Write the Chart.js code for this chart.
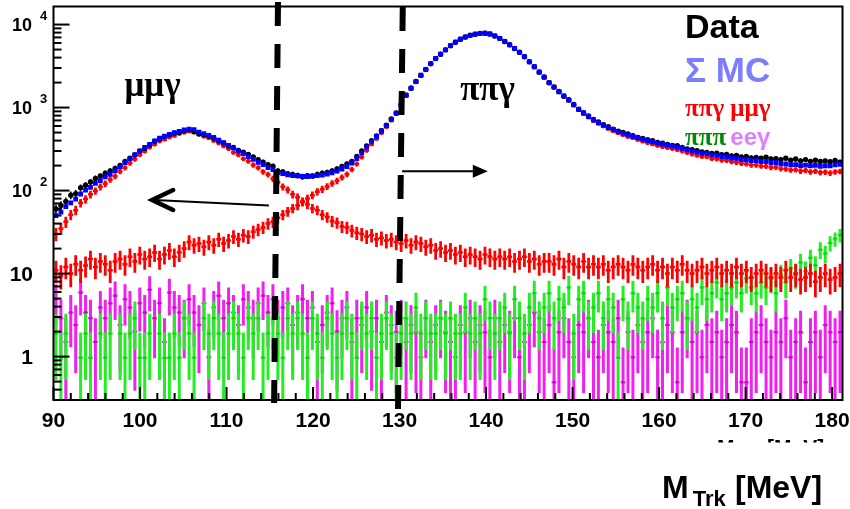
<!DOCTYPE html>
<html>
<head>
<meta charset="utf-8">
<script src="https://cdn.jsdelivr.net/npm/chart.js@4.4.1/dist/chart.umd.min.js"></script>
<style>
  html, body { margin: 0; padding: 0; background: #ffffff; }
  canvas { display: block; }
</style>
</head>
<body>
<canvas id="massPlot" width="850" height="509"></canvas>
<script>
// Track-mass histogram binning (MeV)
const binStart = 90;
const binWidth = 0.57;
const xRange = [90, 181.2];
const yRange = [0.31, 16500];
const xMajorTicks = [90, 100, 110, 120, 130, 140, 150, 160, 170, 180];
const yMajorTicks = [1, 10, 100, 1000, 10000];

// Selected data, events per bin
const dataCounts = [
  60, 66, 74, 88, 92, 108, 116, 127, 140, 150,
  162, 172, 185, 201, 224, 245, 268, 300, 322, 355,
  390, 418, 447, 470, 492, 505, 527, 540, 510, 480,
  472, 450, 428, 398, 372, 345, 330, 305, 290, 272,
  255, 236, 220, 205, 196, 172, 168, 160, 156, 152,
  147, 151, 150, 156, 162, 165, 172, 182, 195, 210,
  225, 258, 300, 345, 400, 455, 525, 612, 730, 860,
  1090, 1420, 1720, 2060, 2440, 2880, 3370, 3890, 4390, 4960,
  5550, 6120, 6660, 7080, 7430, 7650, 7820, 7870, 7690, 7290,
  6810, 6240, 5710, 5140, 4630, 4090, 3560, 3110, 2670, 2330,
  1990, 1770, 1560, 1370, 1240, 1090, 950, 865, 790, 720,
  672, 622, 590, 550, 520, 500, 480, 458, 438, 425,
  410, 398, 380, 372, 360, 350, 348, 330, 318, 310,
  302, 292, 288, 280, 282, 270, 272, 262, 265, 255,
  258, 248, 250, 246, 252, 240, 242, 236, 245, 232,
  240, 228, 236, 225, 232, 224, 228, 222, 230, 220
];

// Sum of simulated components
const mcSum = [
  50, 55, 64, 71, 79, 91, 101, 109, 122, 132,
  146, 157, 174, 193, 217, 241, 271, 299, 331, 361,
  397, 427, 453, 475, 500, 517, 539, 549, 541, 507,
  486, 461, 436, 404, 379, 349, 325, 299, 279, 257,
  238, 219, 205, 189, 179, 165, 160, 155, 152, 150,
  148, 147, 149, 151, 154, 158, 164, 172, 182, 195,
  215, 242, 285, 335, 392, 448, 522, 608, 722, 858,
  1080, 1400, 1700, 2050, 2450, 2880, 3380, 3900, 4400, 4950,
  5560, 6130, 6650, 7070, 7420, 7650, 7830, 7860, 7700, 7300,
  6800, 6250, 5700, 5150, 4620, 4100, 3550, 3100, 2680, 2320,
  2000, 1760, 1550, 1380, 1230, 1080, 960, 860, 780, 710,
  660, 615, 575, 545, 515, 490, 468, 450, 432, 415,
  400, 387, 372, 362, 352, 343, 334, 322, 310, 298,
  291, 281, 279, 268, 266, 257, 255, 246, 245, 236,
  235, 229, 229, 223, 223, 217, 218, 210, 209, 204,
  205, 200, 203, 198, 201, 196, 199, 198, 204, 207
];

// pi+ pi- gamma simulation
const pipigamma = [
  11, 9.5, 12, 10, 13, 11, 12.5, 15, 12, 14,
  13, 11, 14, 15, 13, 16, 14, 17, 15, 16,
  18, 15, 17, 19, 16, 18, 20, 24, 22, 23,
  21, 24, 22, 26, 23, 25, 28, 26, 29, 28,
  32, 34, 36, 40, 42, 47, 51, 56, 61, 66,
  74, 80, 88, 97, 104, 112, 122, 131, 144, 157,
  180, 209, 252, 303, 360, 418, 491, 580, 692, 830,
  1050, 1370, 1672, 2020, 2420, 2850, 3350, 3870, 4370, 4920,
  5530, 6100, 6620, 7040, 7390, 7620, 7800, 7830, 7670, 7270,
  6770, 6220, 5670, 5120, 4590, 4070, 3520, 3070, 2650, 2290,
  1970, 1730, 1520, 1350, 1200, 1050, 930, 832, 752, 683,
  633, 588, 550, 518, 490, 465, 442, 426, 408, 390,
  374, 360, 346, 336, 327, 318, 309, 297, 286, 274,
  265, 256, 254, 242, 240, 232, 230, 222, 218, 212,
  209, 203, 203, 197, 196, 190, 191, 183, 182, 177,
  178, 172, 175, 168, 171, 165, 167, 163, 168, 170
];

// mu+ mu- gamma simulation
const mumugamma = [
  30, 35, 42, 51, 58, 71, 79, 90, 99, 111,
  121, 136, 149, 170, 188, 214, 238, 270, 296, 330,
  358, 392, 410, 436, 455, 480, 496, 512, 498, 472,
  444, 428, 396, 372, 341, 318, 288, 268, 242, 226,
  203, 188, 168, 156, 139, 126, 111, 102, 90, 83,
  73, 68, 61, 58, 51, 48, 43, 41, 37, 36,
  33, 31, 30, 28, 29, 26, 27, 25, 26, 24,
  23, 25, 22, 24, 23, 21, 22, 19, 20, 18,
  19, 17, 18, 16, 17, 16, 15, 17, 16, 15,
  16, 15, 16, 14, 15, 16, 14, 15, 13, 14,
  14, 13, 15, 12, 14, 13, 12, 14, 12, 13,
  12, 13, 11, 12, 13, 12, 11, 13, 12, 11,
  12, 13, 11, 12, 10, 12, 11, 13, 11, 10,
  11, 12, 10, 11, 12, 10, 11, 10, 12, 10,
  11, 9, 10, 11, 10, 9, 10, 9, 11, 9,
  10, 8.5, 9, 10, 8, 9, 10, 8.5, 9, 10
];

// pi+ pi- pi0 simulation (empty bins are null)
const pipipi = [
  1.9, 0.97, 1.9, null, null, 0.97, 1.9, 0.97, null, 1.9,
  0.97, 1.9, null, 1.9, 0.97, 1.9, 2.9, 0.97, 0.97, 1.9,
  null, 1.9, 0.97, 0.97, 1.9, 0.97, 2.9, 1.9, 0.97, null,
  2.9, 1.9, 2.9, 1.9, 0.97, 1.9, 2.9, 1.9, 0.97, 2.9,
  1.9, 2.9, 0.97, 1.9, 2.9, 1.9, 0.97, 2.9, 1.9, 2.9,
  1.9, 0.97, 2.9, 1.9, 0.97, 2.9, 1.9, 0.97, 1.9, 2.9,
  1.9, 0.97, 2.9, 1.9, 2.9, 0.97, 1.9, 2.9, 1.9, 0.97,
  1.9, 2.9, 1.9, 3.9, 1.9, 2.9, 1.9, 1.9, 2.9, 1.9,
  2.9, 1.9, 1.9, 3.9, 1.9, 2.9, 1.9, 4.9, 2.9, 1.9,
  2.9, 3.9, 1.9, 4.9, 2.9, 1.9, 3.9, 5.8, 2.9, 3.9,
  5.8, 2.9, 4.9, 3.9, 6.8, 1.9, 4.9, 5.8, 2.9, 3.9,
  5.8, 2.9, 4.9, 3.9, 0.97, 4.9, 2.9, 5.8, 3.9, 2.9,
  4.9, 3.9, 5.8, 2.9, 6.8, 3.9, 4.9, 5.8, 2.9, 4.9,
  3.9, 6.8, 4.9, 5.8, 7.8, 4.9, 5.8, 6.8, 7.8, 5.8,
  8.7, 6.8, 5.8, 7.8, 6.8, 8.7, 5.8, 9.7, 7.8, 11.6,
  9.7, 13.6, 10.7, 15.5, 12.6, 19.4, 17.5, 23.3, 26.2, 29.1
];

// e+ e- gamma simulation
const eegamma = [
  4.9, 2.9, 1.5, 3.4, 2.4, 5.9, 3.4, 2.9, 1.5, 3.9,
  2.9, 4.4, 5.4, 2.4, 4.9, 3.9, 2.0, 4.4, 3.4, 6.4,
  2.9, 4.4, 1.5, 5.9, 3.9, 3.4, 2.9, 4.9, 3.4, 2.4,
  4.4, 0.98, 3.9, 5.4, 2.9, 4.4, 3.4, 2.4, 4.9, 3.9,
  2.9, 4.4, 5.4, 3.4, 4.9, 2.9, 3.9, 4.4, 2.4, 3.4,
  4.9, 2.9, 3.9, 1.5, 2.4, 3.4, 4.4, 2.0, 2.9, 3.9,
  1.5, 2.9, 2.4, 3.9, 2.0, 2.9, 1.5, 3.4, 2.4, 1.96,
  2.9, 1.5, 2.4, 1.96, 0.98, 2.9, 1.5, 2.4, 2.9, 1.96,
  1.5, 0.98, 2.4, 1.96, 2.9, 1.5, 2.4, 1.96, 0.98, 2.9,
  1.5, 2.4, 1.96, 2.9, 0.98, 1.5, 2.4, 3.4, 1.96, 1.5,
  2.4, 0.49, 1.96, 2.9, 1.5, 0.98, 2.4, 1.96, 2.9, 1.5,
  0.98, 2.4, 1.96, 1.5, 2.9, 0.49, 1.96, 0.98, 2.4, 1.5,
  1.96, 2.9, 0.98, 1.5, 2.4, 1.96, 0.49, 1.96, 2.9, 1.5,
  1.96, 0.98, 2.4, 1.5, 1.96, 0.98, 1.5, 2.4, 1.96, 0.49,
  0.49, 1.5, 1.96, 2.4, 1.5, 0.98, 1.96, 1.5, 2.9, 0.98,
  1.5, 1.96, 0.49, 1.5, 1.96, 0.98, 2.4, 1.96, 1.5, 1.96
];

// Signal-region cuts (MeV) and arrow annotations
const cutLow = { top: 115.95, bottom: 115.5 };
const cutHigh = { top: 130.37, bottom: 129.82 };
const muArrow = { from: [114.9, 66], to: [101.4, 77] };
const piArrow = { from: [130.3, 171], to: [140.2, 171] };

function histPoints(values) {
  const pts = [];
  values.forEach((v, i) => {
    if (v != null) pts.push({ x: binStart + (i + 0.5) * binWidth, y: v });
  });
  return pts;
}

const SANS = "'Liberation Sans', Arial, Helvetica, sans-serif";
const SERIF = "'Liberation Serif', 'Times New Roman', serif";

const rootStyle = {
  id: 'rootStyle',
  beforeDatasetDraw(chart, args) {
    const ds = chart.data.datasets[args.index];
    const eb = ds.errorBar;
    if (!eb) return;
    const { ctx, chartArea: a, scales: { x, y } } = chart;
    ctx.save();
    ctx.beginPath();
    ctx.rect(a.left, a.top, a.right - a.left, a.bottom - a.top);
    ctx.clip();
    ctx.strokeStyle = ds.borderColor;
    ctx.lineCap = 'butt';
    ds.data.forEach(d => {
      const err = Math.sqrt(d.y * eb.weight);
      const px = x.getPixelForValue(d.x);
      const top = y.getPixelForValue(d.y + err);
      const bot = d.y - err > 0 ? y.getPixelForValue(d.y - err) : a.bottom + 10;
      ctx.lineWidth = eb.width;
      ctx.beginPath();
      ctx.moveTo(px, top);
      ctx.lineTo(px, bot);
      ctx.stroke();
      if (eb.binBar) {
        const py = y.getPixelForValue(d.y);
        ctx.lineWidth = eb.binBar;
        ctx.beginPath();
        ctx.moveTo(x.getPixelForValue(d.x - binWidth / 2), py);
        ctx.lineTo(x.getPixelForValue(d.x + binWidth / 2), py);
        ctx.stroke();
      }
    });
    ctx.restore();
  },
  afterDatasetsDraw(chart) {
    const { ctx, chartArea: a, scales: { x, y } } = chart;
    ctx.save();
    // dashed cut lines
    ctx.strokeStyle = '#000';
    ctx.lineWidth = 6;
    ctx.setLineDash([24, 18]);
    [[cutLow, -4.5, 3], [cutHigh, 0.5, 10]].forEach(([c, t, b]) => {
      ctx.beginPath();
      ctx.moveTo(x.getPixelForValue(c.top), a.top + t);
      ctx.lineTo(x.getPixelForValue(c.bottom), a.bottom + b);
      ctx.stroke();
    });
    ctx.setLineDash([]);

    // left arrow with open head
    const mx0 = x.getPixelForValue(muArrow.from[0]), my0 = y.getPixelForValue(muArrow.from[1]);
    const mx1 = x.getPixelForValue(muArrow.to[0]), my1 = y.getPixelForValue(muArrow.to[1]);
    ctx.lineWidth = 2;
    ctx.beginPath(); ctx.moveTo(mx0, my0); ctx.lineTo(mx1 + 2, my1); ctx.stroke();
    ctx.lineWidth = 4.5;
    ctx.lineCap = 'round';
    ctx.lineJoin = 'miter';
    ctx.beginPath();
    ctx.moveTo(mx1 + 21, my1 - 10);
    ctx.lineTo(mx1, my1);
    ctx.lineTo(mx1 + 21, my1 + 10);
    ctx.stroke();
    ctx.lineCap = 'butt';

    // right arrow with filled head
    const px0 = x.getPixelForValue(piArrow.from[0]), py0 = y.getPixelForValue(piArrow.from[1]);
    const px1 = x.getPixelForValue(piArrow.to[0]), py1 = y.getPixelForValue(piArrow.to[1]);
    ctx.lineWidth = 2;
    ctx.beginPath(); ctx.moveTo(px0, py0); ctx.lineTo(px1 - 14, py1); ctx.stroke();
    ctx.fillStyle = '#000';
    ctx.beginPath();
    ctx.moveTo(px1, py1);
    ctx.lineTo(px1 - 15, py1 - 6.5);
    ctx.lineTo(px1 - 15, py1 + 6.5);
    ctx.closePath();
    ctx.fill();

    // region labels
    ctx.fillStyle = '#000';
    ctx.font = 'bold 35px ' + SERIF;
    ctx.textAlign = 'center';
    ctx.textBaseline = 'alphabetic';
    ctx.fillText('μμγ', x.getPixelForValue(101.45), y.getPixelForValue(1390));
    ctx.fillText('ππγ', x.getPixelForValue(140.17), y.getPixelForValue(1245));

    // legend
    ctx.textAlign = 'left';
    ctx.font = 'bold 34px ' + SANS;
    ctx.fillStyle = '#000000';
    ctx.fillText('Data', 685, 38);
    ctx.fillStyle = '#7d7dff';
    ctx.font = 'bold 35px ' + SANS;
    ctx.fillText('Σ MC', 685, 82);
    ctx.fillStyle = '#ff0000';
    ctx.font = 'bold 25px ' + SERIF;
    ctx.fillText('ππγ μμγ', 685, 116);
    ctx.fillStyle = '#008800';
    ctx.fillText('πππ', 685, 145);
    const w3 = ctx.measureText('πππ ').width;
    ctx.fillStyle = '#dd80ff';
    ctx.font = 'bold 24px ' + SANS;
    ctx.fillText('eeγ', 683 + w3, 145);
    ctx.restore();
  },
  afterDraw(chart) {
    const { ctx, chartArea: a, scales: { x, y } } = chart;
    ctx.save();
    ctx.strokeStyle = '#000';
    ctx.fillStyle = '#000';
    ctx.lineWidth = 2;
    ctx.strokeRect(a.left, a.top, a.right - a.left, a.bottom - a.top);

    // x ticks
    for (let v = 90; v <= 181; v += 2) {
      const px = x.getPixelForValue(v);
      const len = v % 10 === 0 ? 13 : 7;
      ctx.beginPath(); ctx.moveTo(px, a.bottom); ctx.lineTo(px, a.bottom - len); ctx.stroke();
    }
    // y ticks (log)
    for (let e = -1; e <= 4; e++) {
      for (let m = 1; m <= 9; m++) {
        const v = m * Math.pow(10, e);
        if (v < yRange[0] || v > yRange[1]) continue;
        const py = y.getPixelForValue(v);
        const len = m === 1 ? 16 : 8;
        ctx.beginPath(); ctx.moveTo(a.left, py); ctx.lineTo(a.left + len, py); ctx.stroke();
      }
    }

    // tick labels
    ctx.textBaseline = 'alphabetic';
    ctx.textAlign = 'center';
    ctx.font = 'bold 21px ' + SANS;
    xMajorTicks.forEach(v => ctx.fillText(String(v), x.getPixelForValue(v), 427));
    yMajorTicks.forEach(v => {
      const py = y.getPixelForValue(v);
      const exp = Math.round(Math.log10(v));
      if (exp <= 1) {
        ctx.textAlign = 'right';
        ctx.font = 'bold 21px ' + SANS;
        ctx.fillText(String(v), 33, py + 7.5);
      } else {
        ctx.textAlign = 'right';
        ctx.font = 'bold 18px ' + SANS;
        ctx.fillText('10', 32, py + 6.5);
        ctx.textAlign = 'left';
        ctx.font = 'bold 13px ' + SANS;
        ctx.fillText(String(exp), 40, py - 5);
      }
    });

    // partially hidden axis title
    ctx.save();
    ctx.beginPath();
    ctx.rect(700, 439, 140, 3.5);
    ctx.clip();
    ctx.textAlign = 'left';
    ctx.font = 'bold 21px ' + SANS;
    ctx.fillText('M', 717, 454);
    ctx.fillText('[MeV]', 767, 454);
    ctx.restore();

    // axis title
    ctx.textAlign = 'left';
    ctx.font = 'bold 32px ' + SANS;
    ctx.fillText('M', 662, 498);
    const mw = ctx.measureText('M').width;
    ctx.font = 'bold 22px ' + SANS;
    ctx.fillText('Trk', 662 + mw + 4, 506);
    ctx.font = 'bold 32px ' + SANS;
    ctx.fillText('[MeV]', 735, 498);
    ctx.restore();
  }
};

const datasets = [
  { label: 'Σ MC', data: histPoints(mcSum), order: 0, pointStyle: 'rect', pointRadius: 3.4,
    backgroundColor: '#0000ff', borderColor: '#0000ff', borderWidth: 0 },
  { label: 'Data', data: histPoints(dataCounts), order: 1, pointStyle: 'circle', pointRadius: 2.7,
    backgroundColor: '#000000', borderColor: '#000000', borderWidth: 0,
    errorBar: { weight: 1, width: 1.5 } },
  { label: 'ππγ', data: histPoints(pipigamma), order: 2, pointStyle: 'rect', pointRadius: 2,
    backgroundColor: '#ff0000', borderColor: '#ff0000', borderWidth: 0,
    errorBar: { weight: 1, width: 2.8, binBar: 2.5 } },
  { label: 'μμγ', data: histPoints(mumugamma), order: 3, pointStyle: 'rect', pointRadius: 2,
    backgroundColor: '#ff0000', borderColor: '#ff0000', borderWidth: 0,
    errorBar: { weight: 1, width: 2.8, binBar: 2.5 } },
  { label: 'πππ', data: histPoints(pipipi), order: 4, pointStyle: 'rect', pointRadius: 1.8,
    backgroundColor: '#10d010', borderColor: '#22ee22', borderWidth: 0,
    errorBar: { weight: 1, width: 3, binBar: 2 } },
  { label: 'eeγ', data: histPoints(eegamma), order: 5, pointStyle: 'rect', pointRadius: 1.8,
    backgroundColor: '#d000d0', borderColor: '#f020f0', borderWidth: 0,
    errorBar: { weight: 1.3, width: 3, binBar: 2 } }
];

new Chart(document.getElementById('massPlot'), {
  type: 'scatter',
  data: { datasets },
  options: {
    responsive: false,
    animation: false,
    devicePixelRatio: 1,
    events: [],
    layout: { padding: { top: 6.5, right: 7.5, left: 0, bottom: 0 } },
    plugins: { legend: { display: false }, tooltip: { enabled: false } },
    scales: {
      x: {
        type: 'linear', position: 'bottom', min: xRange[0], max: xRange[1],
        grid: { display: false }, border: { display: false }, ticks: { display: false },
        afterFit: s => { s.height = 109; }
      },
      y: {
        type: 'logarithmic', position: 'left', min: yRange[0], max: yRange[1],
        grid: { display: false }, border: { display: false }, ticks: { display: false },
        afterFit: s => { s.width = 53.5; }
      }
    }
  },
  plugins: [rootStyle]
});
</script>
</body>
</html>
